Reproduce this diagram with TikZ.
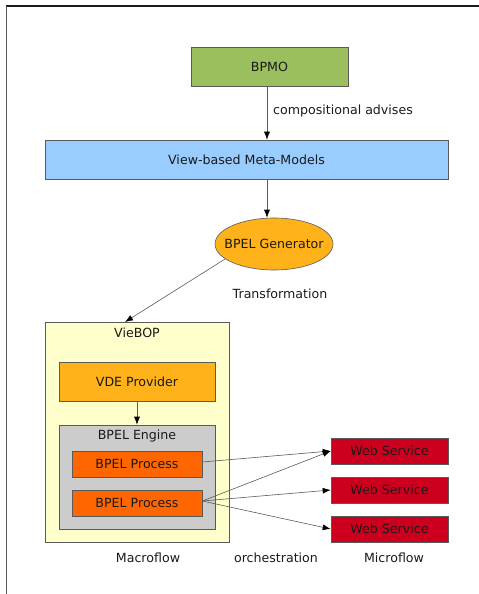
\documentclass[tikz,border=0pt]{standalone}
\usepackage{fontspec}
\setmainfont{DejaVu Sans}
\usetikzlibrary{arrows.meta,shapes.geometric}
\definecolor{bpmogreen}{RGB}{155,190,94}
\definecolor{metablue}{RGB}{153,204,255}
\definecolor{amber}{RGB}{255,178,25}
\definecolor{paleyellow}{RGB}{255,255,204}
\definecolor{enginegray}{RGB}{204,204,204}
\definecolor{procorange}{RGB}{255,102,0}
\definecolor{wsred}{RGB}{204,0,30}
\definecolor{edgegray}{RGB}{90,90,90}
\definecolor{inkblack}{RGB}{26,26,26}
\tikzset{
  box/.style={draw=edgegray, line width=0.6bp, rectangle, inner sep=0pt, text=inkblack},
  title/.style={inner sep=0pt, text=inkblack, anchor=center},
  txt/.style={inner sep=0pt, text=inkblack},
  flow/.style={draw=edgegray, line width=0.6bp, -{Latex[length=8bp,width=6bp,color=black]}},
}
\begin{document}
\begin{tikzpicture}[x=1bp, y=-1bp, font=\fontsize{12.6bp}{15bp}\selectfont]
\useasboundingbox (0,0) rectangle (479,594);
% page frame
\draw[line width=1.4bp, color=inkblack] (6,6) -- (479,6);
\draw[line width=1.4bp, color=edgegray] (6.5,6) -- (6.5,594);

% top chain
\node[box, fill=bpmogreen, minimum width=157bp, minimum height=39bp] (bpmo) at (269.5,66.5) {BPMO};
\node[box, fill=metablue, minimum width=403bp, minimum height=39bp] (meta) at (246.5,159.5) {View-based Meta-Models};
\node[box, ellipse, fill=amber, minimum width=118bp, minimum height=52bp,
      label={[txt]center:BPEL Generator}] (gen) at (274,244) {};

\draw[flow] (bpmo.south -| 267,0) -- (meta.north -| 267,0);
\node[txt, anchor=west] (adv) at (273,111) {compositional advises};
\draw[flow] (meta.south -| 267,0) -- (gen.north -| 267,0);
\node[txt] (trans) at (280,294) {Transformation};

% VieBOP container
\node[box, fill=paleyellow, minimum width=184bp, minimum height=220bp] (vie) at (137,432) {};
\node[title] (vietitle) at (137,333) {VieBOP};
\node[box, fill=amber, minimum width=156bp, minimum height=39bp] (vde) at (137,381.5) {VDE Provider};
\node[box, fill=enginegray, minimum width=156bp, minimum height=104bp] (eng) at (137,477) {};
\node[title] (engtitle) at (137,436) {BPEL Engine};
\node[box, fill=procorange, minimum width=130bp, minimum height=26bp] (p1) at (137,464) {BPEL Process};
\node[box, fill=procorange, minimum width=130bp, minimum height=26bp] (p2) at (137,503) {BPEL Process};
\draw[flow] (vde.south) -- (eng.north);
\coordinate (vietip) at (125,322);
\draw[flow] (gen.197) -- (vietip);

% web services
\node[box, fill=wsred, minimum width=117bp, minimum height=26bp] (ws1) at (389.5,451) {Web Service};
\node[box, fill=wsred, minimum width=117bp, minimum height=26bp] (ws2) at (389.5,490) {Web Service};
\node[box, fill=wsred, minimum width=117bp, minimum height=26bp] (ws3) at (389.5,529) {Web Service};

\draw[flow] ([yshift=2bp]p1.east) -- (ws1.west);
\draw[flow] ([yshift=2bp]p2.east) -- (ws1.west);
\draw[flow] ([yshift=2bp]p2.east) -- (ws2.west);
\draw[flow] ([yshift=2bp]p2.east) -- (ws3.west);

% bottom captions
\node[txt] (macro) at (148,558) {Macroflow};
\node[txt] (orch) at (276,558) {orchestration};
\node[txt] (micro) at (394,558) {Microflow};
\end{tikzpicture}
\end{document}
